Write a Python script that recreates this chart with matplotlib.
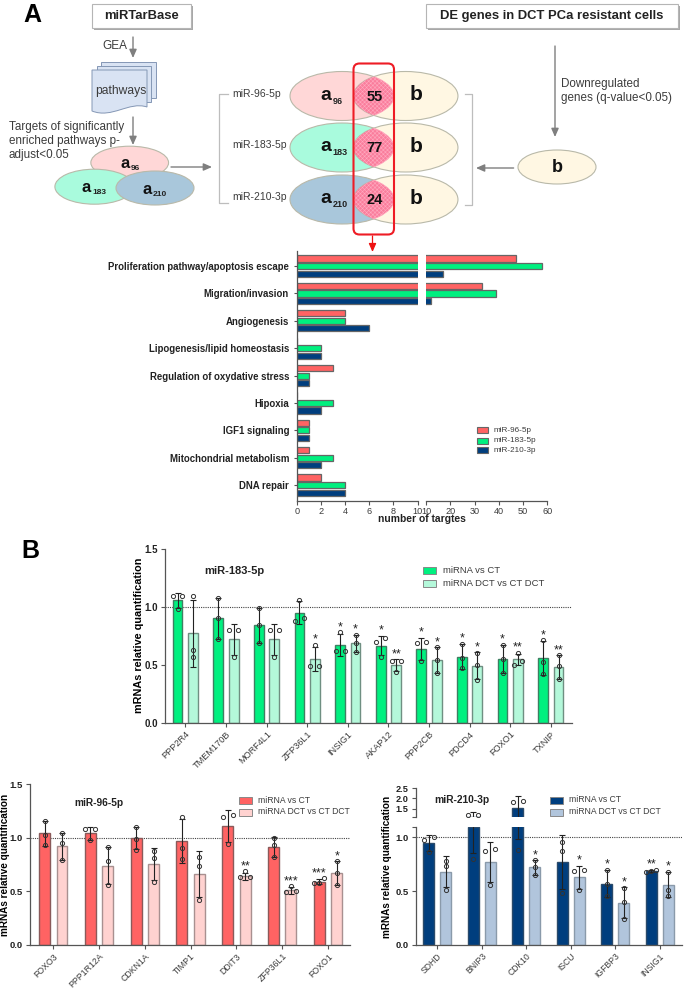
import numpy as np
import matplotlib
matplotlib.use('Agg')
import matplotlib.pyplot as plt
from matplotlib.patches import Ellipse, Rectangle, FancyBboxPatch, PathPatch
from matplotlib.path import Path

plt.rcParams['font.family'] = ['Liberation Sans', 'DejaVu Sans']
plt.rcParams['hatch.linewidth'] = 0.4

W, H = 685, 989

# top panel: number of targets
pathways = ['Proliferation pathway/apoptosis escape', 'Migration/invasion', 'Angiogenesis',
            'Lipogenesis/lipid homeostasis', 'Regulation of oxydative stress', 'Hipoxia',
            'IGF1 signaling', 'Mitochondrial metabolism', 'DNA repair']
targets_96 = [47, 33, 4, 0, 3, 0, 1, 1, 2]
targets_183 = [58, 39, 4, 2, 1, 3, 1, 3, 4]
targets_210 = [17, 12, 6, 2, 1, 2, 1, 2, 4]

# miR-183-5p
genes_183 = ['PPP2R4', 'TMEM170B', 'MORF4L1', 'ZFP36L1', 'INSIG1', 'AKAP12', 'PPP2CB', 'PDCD4', 'FOXO1', 'TXNIP']
mean_183_ct = [1.055, 0.90, 0.84, 0.95, 0.67, 0.665, 0.635, 0.57, 0.55, 0.555]
mean_183_dct = [0.77, 0.72, 0.72, 0.55, 0.685, 0.495, 0.54, 0.49, 0.545, 0.48]
pts_183_ct = [[1.09, 1.09, 0.98], [1.075, 0.90, 0.72], [0.99, 0.84, 0.69], [1.06, 0.90, 0.88], [0.78, 0.62, 0.62],
              [0.73, 0.70, 0.57], [0.70, 0.69, 0.53], [0.68, 0.56, 0.47], [0.67, 0.55, 0.43], [0.71, 0.52, 0.42]]
pts_183_dct = [[1.095, 0.63, 0.57], [0.80, 0.80, 0.57], [0.80, 0.80, 0.57], [0.67, 0.49, 0.49], [0.76, 0.69, 0.61],
               [0.53, 0.53, 0.44], [0.65, 0.54, 0.43], [0.60, 0.50, 0.37], [0.60, 0.53, 0.50], [0.58, 0.49, 0.38]]
sig_183_ct = ['', '', '', '', '*', '*', '*', '*', '*', '*']
sig_183_dct = ['', '', '', '*', '*', '**', '*', '*', '**', '**']

# miR-96-5p
genes_96 = ['FOXO3', 'PPP1R12A', 'CDKN1A', 'TIMP1', 'DDIT3', 'ZFP36L1', 'FOXO1']
mean_96_ct = [1.04, 1.04, 1.0, 0.97, 1.11, 0.915, 0.59]
mean_96_dct = [0.92, 0.74, 0.755, 0.66, 0.64, 0.51, 0.67]
pts_96_ct = [[1.16, 1.03, 0.93], [1.08, 1.08, 0.98], [1.10, 0.99, 0.89], [1.19, 0.90, 0.80],
             [1.21, 1.19, 0.94], [1.0, 0.93, 0.82], [0.62, 0.58, 0.58]]
pts_96_dct = [[1.04, 0.95, 0.79], [0.91, 0.78, 0.56], [0.88, 0.81, 0.59], [0.82, 0.74, 0.42],
              [0.69, 0.63, 0.63], [0.55, 0.50, 0.49], [0.78, 0.67, 0.56]]
sig_96_ct = ['', '', '', '', '', '', '***']
sig_96_dct = ['', '', '', '', '**', '***', '*']

# miR-210-3p
genes_210 = ['SDHD', 'BNIP3', 'CDK10', 'ISCU', 'IGFBP3', 'INSIG1']
mean_210_ct = [0.95, 1.1, 1.55, 0.77, 0.57, 0.69]
mean_210_dct = [0.68, 0.77, 0.72, 0.63, 0.39, 0.56]
pts_210_ct = [[1.0, 0.98, 0.86], [1.22, 1.22, 0.80], [1.89, 1.85, 0.885], [0.96, 0.87, 0.48],
              [0.70, 0.57, 0.45], [0.70, 0.69, 0.68]]
pts_210_dct = [[0.78, 0.73, 0.51], [0.89, 0.87, 0.56], [0.79, 0.72, 0.65], [0.70, 0.69, 0.51],
               [0.53, 0.40, 0.24], [0.68, 0.51, 0.45]]
sig_210_ct = ['', '', '', '', '*', '**']
sig_210_dct = ['', '', '*', '*', '*', '*']

RED, RED_L = '#FF6363', '#FFD2D0'
GREEN, GREEN_L = '#00F07F', '#B4F8DA'
NAVY, NAVY_L = '#003E7E', '#B1C5DC'
GREY = '#3c3c3c'


def px_axes(l, t, r, b):
    return fig.add_axes([l / W, 1 - b / H, (r - l) / W, (b - t) / H])


def spread(vals, dx=0.11):
    # open circles that would overlap sit side by side, like prism does
    order = np.argsort(vals)
    off = np.zeros(len(vals))
    groups = [[order[0]]]
    for i in order[1:]:
        if vals[i] - vals[groups[-1][-1]] < 0.045:
            groups[-1].append(i)
        else:
            groups.append([i])
    for g in groups:
        if len(g) > 1:
            off[g] = np.linspace(-dx, dx, len(g))
    return off


def style_ax(ax):
    for s in ['top', 'right']:
        ax.spines[s].set_visible(False)
    for s in ['left', 'bottom']:
        ax.spines[s].set_color('#555555')
        ax.spines[s].set_linewidth(0.9)
    ax.patch.set_alpha(0)


def bars(ax, means, pts, x_off, color, edge, floor=None):
    for i, (m, p) in enumerate(zip(means, pts)):
        x = i + x_off
        p = np.array(p)
        sd = np.std(p, ddof=1)
        ax.bar(x, m, 0.24, color=color, edgecolor=edge, linewidth=1.0, zorder=2)
        xs = x + spread(p)
        if floor is not None:
            # upper part of the broken axis: only what is really above the break
            xs, p = xs[p > floor], p[p > floor]
            if m + sd <= floor:
                continue
        ax.errorbar(x, m, yerr=sd, color='#222222', lw=0.8, capsize=2, capthick=0.8, zorder=3)
        ax.plot(xs, p, 'o', ms=3.0, mfc='none', mec='#333333', mew=0.7, zorder=4)


def stars(ax, means, pts, sig, x_off):
    for i, s in enumerate(sig):
        if s:
            top = max(means[i] + np.std(pts[i], ddof=1), max(pts[i]))
            ax.text(i + x_off, top + 0.045, s, ha='center', va='center', fontsize=9, color='#222222')


def finish_lower(ax, genes, xlim, label_size):
    style_ax(ax)
    ax.set_xlim(*xlim)
    ax.set_xticks(range(len(genes)))
    ax.set_xticklabels(genes, rotation=45, ha='right', rotation_mode='anchor', fontsize=label_size, color=GREY)
    ax.tick_params(axis='x', length=3, width=0.8, color='#555555', pad=2)
    ax.tick_params(axis='y', length=3, width=0.8, color='#555555', pad=2)
    ax.axhline(1.0, color='#444444', lw=0.8, ls=(0, (1, 1)), zorder=1)


fig = plt.figure(figsize=(W / 100, H / 100), dpi=100)

# A: targets by pathway, broken x axis
ax_l = px_axes(296.7, 251, 417.7, 501)
ax_r = px_axes(426, 251, 547.3, 501)
y = np.arange(len(pathways))
for ax in [ax_l, ax_r]:
    for vals, off, col in [(targets_96, -0.277, RED), (targets_183, 0, GREEN), (targets_210, 0.277, NAVY)]:
        ax.barh(y + off, vals, 0.225, color=col, edgecolor='#666666', linewidth=0.9)
    ax.set_ylim(8.58, -0.55)
    style_ax(ax)
    ax.tick_params(axis='x', length=3, width=0.8, color='#555555', labelsize=6.6, labelcolor=GREY, pad=1)
ax_l.set_xlim(0, 10)
ax_r.set_xlim(10, 60)
ax_l.set_xticks([0, 2, 4, 6, 8, 10])
ax_r.set_xticks([10, 20, 30, 40, 50, 60])
ax_l.set_yticks(y)
ax_l.set_yticklabels(pathways, fontsize=6.9, fontweight='bold', color='#222222')
ax_l.tick_params(axis='y', length=2, width=0.8, color='#555555', pad=3.5)
ax_r.spines['left'].set_visible(False)
ax_r.set_yticks([])

# B: miR-183-5p
ax = px_axes(165, 548.7, 572, 722.7)
bars(ax, mean_183_ct, pts_183_ct, -0.19, GREEN, '#3f7f62')
bars(ax, mean_183_dct, pts_183_dct, 0.19, GREEN_L, '#6f8f82')
stars(ax, mean_183_ct, pts_183_ct, sig_183_ct, -0.19)
stars(ax, mean_183_dct, pts_183_dct, sig_183_dct, 0.19)
finish_lower(ax, genes_183, (-0.5, 9.52), 6.6)
ax.set_ylim(0, 1.5)
ax.set_yticks([0, 0.5, 1.0, 1.5])
ax.set_yticklabels(['0.0', '0.5', '1.0', '1.5'], fontsize=7, fontweight='bold', color='#222222')
ax.set_ylabel('mRNAs relative quantification', fontsize=7.8, fontweight='bold')
ax.yaxis.set_label_coords(-0.052, 0.504)

# B: miR-96-5p
ax = px_axes(30, 784.3, 350, 944.7)
bars(ax, mean_96_ct, pts_96_ct, -0.19, RED, '#8a5a5a')
bars(ax, mean_96_dct, pts_96_dct, 0.19, RED_L, '#a89090')
stars(ax, mean_96_ct, pts_96_ct, sig_96_ct, -0.19)
stars(ax, mean_96_dct, pts_96_dct, sig_96_dct, 0.19)
finish_lower(ax, genes_96, (-0.509, 6.48), 6.3)
ax.set_ylim(0, 1.5)
ax.set_yticks([0, 0.5, 1.0, 1.5])
ax.set_yticklabels(['0.0', '0.5', '1.0', '1.5'], fontsize=6.8, fontweight='bold', color='#222222')
ax.set_ylabel('mRNAs relative quantification', fontsize=7.2, fontweight='bold')
ax.yaxis.set_label_coords(-0.0625, 0.5)

# B: miR-210-3p, broken y axis
ax = px_axes(415.7, 826.7, 682, 944.7)
top = px_axes(415.7, 788, 682, 817.3)
bars(ax, mean_210_ct, pts_210_ct, -0.19, NAVY, '#2a4a6a')
bars(ax, mean_210_dct, pts_210_dct, 0.19, NAVY_L, '#8a9aaa')
bars(top, mean_210_ct, pts_210_ct, -0.19, NAVY, '#2a4a6a', floor=1.1)
bars(top, mean_210_dct, pts_210_dct, 0.19, NAVY_L, '#8a9aaa', floor=1.1)
stars(ax, mean_210_ct, pts_210_ct, sig_210_ct, -0.19)
stars(ax, mean_210_dct, pts_210_dct, sig_210_dct, 0.19)
finish_lower(ax, genes_210, (-0.485, 5.5), 6.2)
ax.set_ylim(0, 1.1)
ax.set_yticks([0, 0.5, 1.0, 1.1])
ax.set_yticklabels(['0.0', '0.5', '1.0', ''], fontsize=6.8, fontweight='bold', color='#222222')
ax.set_ylabel('mRNAs relative quantification', fontsize=7.2, fontweight='bold')
ax.yaxis.set_label_coords(-0.089, 0.663)
style_ax(top)
top.spines['bottom'].set_visible(False)
top.set_xlim(-0.485, 5.5)
top.set_ylim(1.1, 2.5)
top.set_xticks([])
top.set_yticks([1.1, 1.5, 2.0, 2.5])
top.set_yticklabels(['', '1.5', '2.0', '2.5'], fontsize=6.6, fontweight='bold', color='#222222')
top.tick_params(axis='y', length=3, width=0.8, color='#555555', pad=2)

# overlay in pixel coordinates for the schematic
ov = fig.add_axes([0, 0, 1, 1], zorder=10)
ov.set_xlim(0, W)
ov.set_ylim(H, 0)
ov.axis('off')


def arrow(x0, y0, x1, y1, color='#7f7f7f', lw=1.0):
    ov.annotate('', xy=(x1, y1), xytext=(x0, y0),
                arrowprops=dict(arrowstyle='-|>,head_width=0.22,head_length=0.5', color=color, lw=lw,
                                shrinkA=0, shrinkB=0))


def box(x0, y0, x1, y1, label):
    ov.add_patch(Rectangle((x0 + 2, y0 + 2), x1 - x0, y1 - y0, fc='#a8a8a8', ec='none'))
    ov.add_patch(Rectangle((x0, y0), x1 - x0, y1 - y0, fc='white', ec='#b5b5b5', lw=0.8))
    ov.text((x0 + x1) / 2, (y0 + y1) / 2, label, ha='center', va='center', fontsize=9.4,
            fontweight='bold', color='#222222')


def a_label(x, y, sub, size=13, sub_size=6.5, dx=8, dy=5):
    ov.text(x, y, 'a', ha='center', va='center', fontsize=size, fontweight='bold', color='#111111')
    ov.text(x + dx, y + dy, sub, ha='left', va='center', fontsize=sub_size, fontweight='bold', color='#222222')


def ellipse(cx, cy, w, h, col):
    e = Ellipse((cx, cy), w, h, fc=col, ec='#b9b9a9', lw=0.8)
    ov.add_patch(e)
    return e


def page(x0, y0, x1, y1, wavy=False):
    if wavy:
        dy = 6
        verts = [(x0, y0), (x1, y0), (x1, y1 - dy), (x1 - 18, y1 - 12), (x0 + 20, y1 + 6), (x0, y1 - 2), (x0, y0), (x0, y0)]
        codes = [Path.MOVETO, Path.LINETO, Path.LINETO, Path.CURVE4, Path.CURVE4, Path.CURVE4, Path.LINETO, Path.CLOSEPOLY]
    else:
        verts = [(x0, y0), (x1, y0), (x1, y1), (x0, y1), (x0, y0)]
        codes = [Path.MOVETO, Path.LINETO, Path.LINETO, Path.LINETO, Path.CLOSEPOLY]
    ov.add_patch(PathPatch(Path(verts, codes), fc='#D9E3F3', ec='#8497b5', lw=0.7))


ov.text(32, 15, 'A', ha='center', va='center', fontsize=18, fontweight='bold')
ov.text(30, 551, 'B', ha='center', va='center', fontsize=18, fontweight='bold')

box(92, 4, 191, 28, 'miRTarBase')
box(426, 4, 678, 28, 'DE genes in DCT PCa resistant cells')

ov.text(115, 46, 'GEA', ha='center', va='center', fontsize=8.5, color=GREY)
arrow(133, 37, 133, 58)
page(101, 62, 156, 98)
page(96.6, 66, 151.5, 102)
page(92, 70, 147, 113, wavy=True)
ov.text(121, 91, 'pathways', ha='center', va='center', fontsize=8.7, color=GREY)
arrow(133, 117, 133, 145)
for yy, line in [(127, 'Targets of significantly'), (141, 'enriched pathways p-'), (155, 'adjust<0.05')]:
    ov.text(9, yy, line, ha='left', va='center', fontsize=8.4, color=GREY)

ellipse(129.7, 162.7, 77.7, 33, '#FFD7D7')
ellipse(94.4, 186.7, 79, 35, '#A9FBDD')
ellipse(155, 188, 78, 34, '#A9C7DB')
a_label(125, 164, '96', size=12, sub_size=6, dx=6, dy=5)
a_label(86.5, 187, '183', size=12, sub_size=6, dx=6, dy=5)
a_label(147, 189, '210', size=12, sub_size=6, dx=6, dy=5)
arrow(171, 167, 212, 167)

# left and right brackets
ov.plot([228, 219.5, 219.5, 228], [94, 94, 203, 203], color='#bdbdbd', lw=0.9)
ov.plot([465, 472, 472, 465], [94, 94, 205, 205], color='#bdbdbd', lw=0.9)

rows = [(96, '#FFD7D7', 'miR-96-5p', '96', '55'), (147.5, '#A9FBDD', 'miR-183-5p', '183', '77'),
        (199.5, '#A9C7DB', 'miR-210-3p', '210', '24')]
for cy, col, name, sub, n in rows:
    ellipse(342, cy, 104, 49, col)
    be = ellipse(405.7, cy, 104.5, 49, '#FFF7E3')
    lens = Ellipse((342, cy), 104, 49, fc='#FA7D9C', ec='#FFA9BF', lw=0.5, hatch='xxxxxxxx')
    ov.add_patch(lens)
    lens.set_clip_path(be)
    ov.text(232.7, cy - 2, name, ha='left', va='center', fontsize=7.5, color=GREY)
    a_label(325.7, cy - 1, sub, size=14, sub_size=6.5, dx=7, dy=6)
    ov.text(416, cy - 1, 'b', ha='center', va='center', fontsize=15, fontweight='bold', color='#111111')
    ov.text(374.5, cy + 1, n, ha='center', va='center', fontsize=10.5, fontweight='bold', color='#111111')

ov.add_patch(FancyBboxPatch((356, 66), 35.5, 166, boxstyle='round,pad=2.5,rounding_size=6',
                            fc='none', ec='#EE1C25', lw=1.5))
arrow(372.5, 236, 372.5, 252, color='#EE1111', lw=0.9)

arrow(513.6, 168, 476, 168)
ellipse(557, 167, 78, 34, '#FFF7E3')
ov.text(557, 168, 'b', ha='center', va='center', fontsize=13, fontweight='bold', color='#111111')
arrow(555, 46, 555, 137)
ov.text(561, 91, 'Downregulated\ngenes (q-value<0.05)', ha='left', va='center', fontsize=8.4,
        color=GREY, linespacing=1.25)

# bar chart extras
ov.text(422, 519.5, 'number of targtes', ha='center', va='center', fontsize=7.4, fontweight='bold', color='#222222')
for yy, col, name in [(430, RED, 'miR-96-5p'), (440.5, GREEN, 'miR-183-5p'), (450, NAVY, 'miR-210-3p')]:
    ov.add_patch(Rectangle((477, yy - 3), 11, 6, fc=col, ec='#666666', lw=0.8))
    ov.text(494, yy, name, ha='left', va='center', fontsize=5.9, color=GREY)

# panel titles and legends
ov.text(204, 570.7, 'miR-183-5p', ha='left', va='center', fontsize=8, fontweight='bold', color='#222222')
ov.text(74, 802.7, 'miR-96-5p', ha='left', va='center', fontsize=7.3, fontweight='bold', color='#222222')
ov.text(434, 800, 'miR-210-3p', ha='left', va='center', fontsize=7.4, fontweight='bold', color='#222222')
for lx, tx, y1, y2, c1, c2, fs in [(422.7, 442.7, 570.5, 583, GREEN, GREEN_L, 6.8),
                                   (239, 257.7, 800.5, 812, RED, RED_L, 6.2),
                                   (550, 568.7, 800, 812, NAVY, NAVY_L, 6.2)]:
    for yy, col, name in [(y1, c1, 'miRNA vs CT'), (y2, c2, 'miRNA DCT vs CT DCT')]:
        ov.add_patch(Rectangle((lx, yy - 3.5), 13, 7, fc=col, ec='#888888', lw=0.7))
        ov.text(tx, yy, name, ha='left', va='center', fontsize=fs, color=GREY)

fig.savefig('out.png', dpi=100)
